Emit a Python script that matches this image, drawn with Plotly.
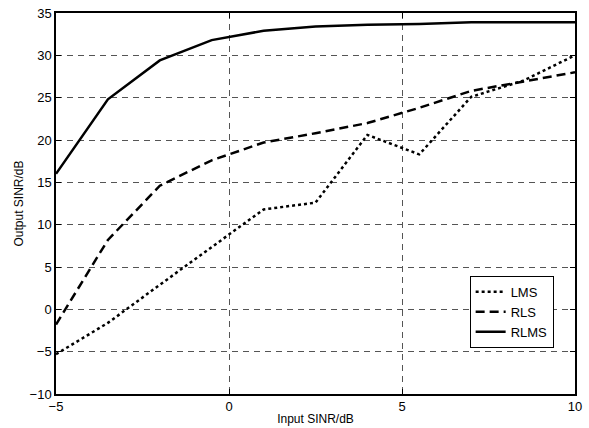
import plotly.graph_objects as go

# Input SINR (dB) sample points
input_sinr = [-5, -3.5, -2, -0.5, 1, 2.5, 4, 5.5, 7, 8.5, 10]

# Output SINR (dB) for each algorithm
lms = [-5.3, -1.6, 2.9, 7.3, 11.8, 12.6, 20.6, 18.3, 25.1, 27.0, 30.0]
rls = [-1.8, 8.2, 14.6, 17.6, 19.7, 20.8, 22.0, 23.8, 25.8, 26.9, 28.0]
rlms = [16.0, 24.8, 29.4, 31.8, 32.9, 33.4, 33.6, 33.7, 33.9, 33.9, 33.9]

x_ticks = [-5, 0, 5, 10]
y_ticks = [-10, -5, 0, 5, 10, 15, 20, 25, 30, 35]

FONT = "Liberation Sans, Arial, sans-serif"

fig = go.Figure()
fig.add_trace(go.Scatter(x=input_sinr, y=lms, mode="lines", name="LMS",
                         line=dict(color="black", width=2.5, dash="dot")))
fig.add_trace(go.Scatter(x=input_sinr, y=rls, mode="lines", name="RLS",
                         line=dict(color="black", width=2.5, dash="9px,5px")))
fig.add_trace(go.Scatter(x=input_sinr, y=rlms, mode="lines", name="RLMS",
                         line=dict(color="black", width=2.5)))

axis_common = dict(
    showline=True, linecolor="black", linewidth=1.5, mirror="ticks",
    ticks="inside", ticklen=5, tickcolor="black",
    showgrid=True, gridcolor="#555555", gridwidth=1, griddash="6px,5px",
    zeroline=False, automargin=False,
    tickfont=dict(family=FONT, size=13, color="black"),
)

fig.update_xaxes(range=[-5, 10], tickvals=x_ticks,
                 title=dict(text="Input SINR/dB", standoff=1,
                            font=dict(family=FONT, size=12, color="black")),
                 **axis_common)
fig.update_yaxes(range=[-10, 35], tickvals=y_ticks,
                 title=dict(text="Output SINR/dB", standoff=3,
                            font=dict(family=FONT, size=12, color="black")),
                 **axis_common)

fig.update_layout(
    width=589, height=428,
    margin=dict(l=56, r=14, t=13, b=34),
    plot_bgcolor="white", paper_bgcolor="white",
    legend=dict(x=0.797, y=0.31, xanchor="left", yanchor="top",
                bordercolor="black", borderwidth=1, bgcolor="white",
                font=dict(family=FONT, size=13, color="black"),
                tracegroupgap=0, itemwidth=30),
    showlegend=True,
)

fig.write_html("out.html")
